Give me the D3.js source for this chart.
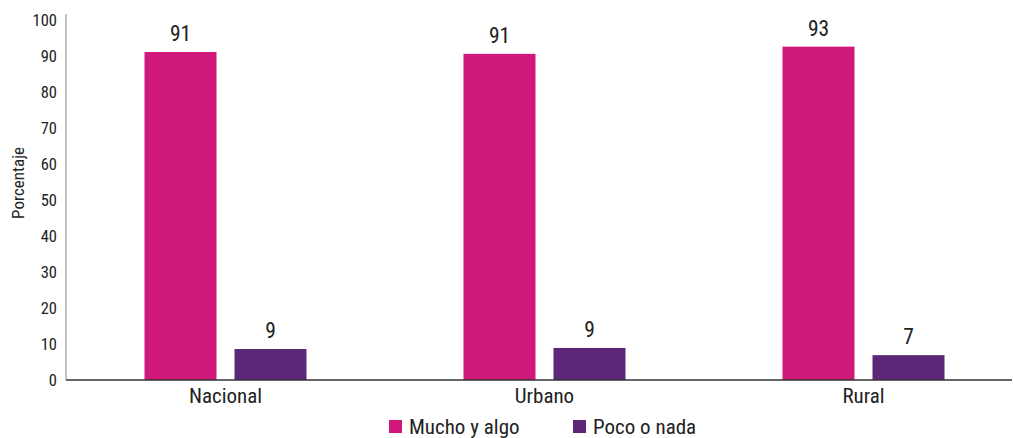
<!DOCTYPE html>
<html>
<head>
<meta charset="utf-8">
<script src="https://cdn.jsdelivr.net/npm/d3@7"></script>
<style>
  body { margin: 0; background: #fff; }
  svg text { font-family: "Roboto Condensed", Roboto, sans-serif; font-weight: 400; fill: #222; }
</style>
</head>
<body>
<svg id="chart" width="1013" height="438"></svg>
<script>
// data
let categories = ["Nacional", "Urbano", "Rural"];
let seriesNames = ["Mucho y algo", "Poco o nada"];
let muchoValues = [91.1, 90.6, 92.6];
let pocoValues = [8.6, 8.9, 6.9];
let muchoLabels = ["91", "91", "93"];
let pocoLabels = ["9", "9", "7"];
let yTicks = [0, 10, 20, 30, 40, 50, 60, 70, 80, 90, 100];
let colors = ["#d0177b", "#5c2777"];

let svg = d3.select("#chart");

let plotLeft = 66, plotRight = 1023, plotTop = 20, plotBottom = 380;

let xScale = d3.scaleBand()
    .domain(categories)
    .range([plotLeft, plotRight]);
let innerScale = d3.scaleBand()
    .domain(seriesNames)
    .range([0, 162])
    .paddingInner(0.2);
let yScale = d3.scaleLinear()
    .domain([0, 100])
    .range([plotBottom, plotTop]);

// y axis
let yAxis = svg.append("g")
    .attr("transform", "translate(" + plotLeft + ",0)")
    .call(d3.axisLeft(yScale).tickValues(yTicks).tickSize(0).tickPadding(9));
yAxis.select(".domain").remove();
yAxis.selectAll("text")
    .style("font-size", "16.5px")
    .style("font-family", "'Roboto Condensed', Roboto, sans-serif")
    .attr("fill", "#222");
svg.append("line")
    .attr("x1", plotLeft).attr("x2", plotLeft)
    .attr("y1", 14).attr("y2", plotBottom)
    .attr("stroke", "#999").attr("stroke-width", 1.2);

svg.append("text")
    .attr("transform", "translate(24,183) rotate(-90)")
    .attr("text-anchor", "middle")
    .style("font-size", "17px")
    .text("Porcentaje");

// rows for the bars
let rows = [];
categories.forEach((c, i) => {
    rows.push({ cat: c, s: seriesNames[0], v: muchoValues[i], label: muchoLabels[i], color: colors[0] });
    rows.push({ cat: c, s: seriesNames[1], v: pocoValues[i], label: pocoLabels[i], color: colors[1] });
});

let groupX = d => xScale(d.cat) + xScale.bandwidth() / 2 - 81 + innerScale(d.s);

svg.selectAll("rect.bar").data(rows)
    .enter().append("rect")
    .attr("class", "bar")
    .attr("x", groupX)
    .attr("y", d => yScale(d.v))
    .attr("width", innerScale.bandwidth())
    .attr("height", d => yScale(0) - yScale(d.v))
    .attr("fill", d => d.color);

svg.selectAll("text.val").data(rows)
    .enter().append("text")
    .attr("class", "val")
    .attr("x", d => groupX(d) + innerScale.bandwidth() / 2)
    .attr("y", d => yScale(d.v) - 11)
    .attr("text-anchor", "middle")
    .style("font-size", "21.5px")
    .text(d => d.label);

// x axis
svg.append("line")
    .attr("x1", plotLeft).attr("x2", 1012)
    .attr("y1", plotBottom).attr("y2", plotBottom)
    .attr("stroke", "#333").attr("stroke-width", 1.5);

svg.selectAll("text.cat").data(categories)
    .enter().append("text")
    .attr("class", "cat")
    .attr("x", d => xScale(d) + xScale.bandwidth() / 2)
    .attr("y", 403)
    .attr("text-anchor", "middle")
    .style("font-size", "21px")
    .text(d => d);

// legend
let legendX = [389, 573];
let legend = svg.selectAll("g.leg").data(seriesNames)
    .enter().append("g")
    .attr("class", "leg")
    .attr("transform", (d, i) => "translate(" + legendX[i] + ",420)");
legend.append("rect")
    .attr("width", 13).attr("height", 13)
    .attr("fill", (d, i) => colors[i]);
legend.append("text")
    .attr("x", 20).attr("y", 14)
    .style("font-size", "21px")
    .text(d => d);
</script>
</body>
</html>
